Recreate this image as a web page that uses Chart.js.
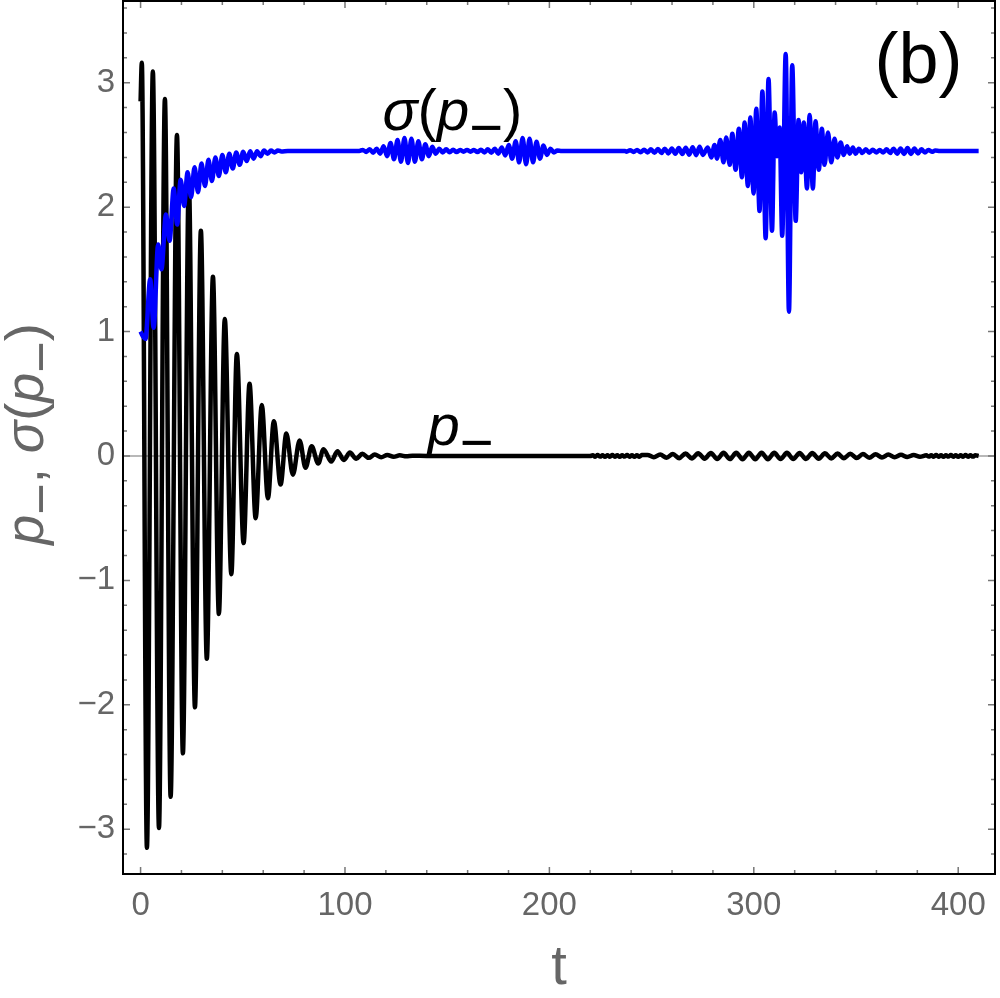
<!DOCTYPE html>
<html>
<head>
<meta charset="utf-8">
<script src="https://cdn.jsdelivr.net/npm/chart.js@4.4.1/dist/chart.umd.min.js"></script>
<style>
  html, body { margin: 0; padding: 0; background: #fff; }
  #wrap { width: 1000px; height: 998px; }
</style>
</head>
<body>
<div id="wrap"><canvas id="chart" width="1000" height="998"></canvas></div>
<script>
// --- data (extrema of the curves) ---
const pTimes = [0, 0.6, 3.1, 6.0, 9.0, 11.9, 14.7, 17.8, 20.7, 23.6, 26.6, 29.5, 32.4, 35.4, 38.3, 41.2, 44.4, 47.1, 50.4,
  53.3, 56.3, 59.3, 62.3, 65.2, 68.5, 71.3, 74.5, 77.8, 80.7, 83.7, 86.9, 89.5, 93.3, 96.3, 99.4, 102.4, 105.5, 108.5,
  111.6, 114.6, 117.7, 120.7, 123.8, 126.8, 130, 133, 140, 180, 220,
  221.2, 222.4, 223.6, 224.8, 226, 227.2, 228.4, 229.6, 230.8, 232, 233.2, 234.4, 235.6, 236.8, 238, 239.2, 240.4,
  241.6, 242.8, 244, 245.2,
  248.0, 251.1, 254.2, 257.3, 260.4, 263.5, 266.6, 269.7, 272.8, 275.9, 279.0, 282.1, 285.2, 288.3, 291.4, 294.5,
  297.6, 300.7, 303.8, 306.9, 310.0, 313.1, 316.2, 319.3, 322.4, 325.5, 328.6, 331.7, 334.8, 337.9, 341.0, 344.1,
  347.2, 350.3, 353.4, 356.5, 359.6, 362.7, 365.8, 368.9, 372.0, 375.1, 378.2, 381.3, 384.4,
  385.6, 386.8, 388.0, 389.2, 390.4, 391.6, 392.8, 394.0, 395.2, 396.4, 397.6, 398.8, 400.0, 401.2, 402.4, 403.6,
  404.8, 406.0, 407.2, 408.4, 410];
const pValues = [2.85, 3.16, -3.15, 3.09, -2.99, 2.87, -2.74, 2.58, -2.39, 2.21, -2.02, 1.81, -1.63, 1.44, -1.27, 1.10,
  -0.95, 0.82, -0.70, 0.58, -0.50, 0.41, -0.34, 0.28, -0.23, 0.18, -0.15, 0.125, -0.095, 0.078, -0.06, 0.055, -0.045,
  0.038, -0.032, 0.027, -0.022, 0.018, -0.015, 0.012, -0.01, 0.008, -0.006, 0.005, -0.003, 0.002, 0, 0, 0,
  0.006, -0.006, 0.007, -0.005, 0.006, -0.007, 0.005, -0.006, 0.007, -0.006, 0.006, -0.007, 0.006, -0.005, 0.007,
  -0.006, 0.006, -0.007, 0.006, -0.006, 0.007,
  0.008, -0.01, 0.012, -0.014, 0.016, -0.018, 0.02, -0.02, 0.022, -0.022, 0.024, -0.024, 0.025, -0.025, 0.026,
  -0.026, 0.026, -0.026, 0.026, -0.026, 0.025, -0.025, 0.025, -0.025, 0.024, -0.024, 0.023, -0.022, 0.021, -0.02,
  0.019, -0.018, 0.017, -0.016, 0.015, -0.014, 0.013, -0.012, 0.011, -0.01, 0.009, -0.008, 0.007, -0.006, 0.005,
  -0.005, 0.006, -0.006, 0.007, -0.006, 0.006, -0.007, 0.006, -0.005, 0.007, -0.006, 0.006, -0.007, 0.006, -0.006,
  0.007, -0.006, 0.006, -0.005, 0.006, 0];

const sTimes = [0, 1.2, 2.4, 4.7, 6.4, 8.6, 10.2, 12.4, 14.2, 16.2, 17.9, 19.6, 21.3, 23.0, 24.7, 26.4, 28.1, 29.8,
  31.5, 33.2, 34.9, 36.6, 38.3, 40.0, 41.7, 43.4, 45.1, 46.8, 48.5, 50.2, 51.9, 53.6, 55.3, 57.0, 58.7, 60.4, 62.1,
  63.8, 65.5, 67.2, 68.9, 72, 90, 107,
  108.7, 110.4, 112.1, 113.8, 115.5, 117.2, 118.9, 120.6, 122.3, 124.0, 125.7, 127.4, 129.1, 130.8, 132.5, 134.2,
  135.9, 137.6, 139.3, 141.0, 142.7, 144.4, 146.1, 147.8, 149.5, 151.2, 152.9, 154.6, 156.3, 158.0, 159.7, 161.4,
  163.1, 164.8, 166.5, 168.2, 169.9,
  171.6, 173.3, 175.0, 176.7, 178.4, 180.1, 181.8, 183.5, 185.2, 186.9, 188.6, 190.3, 192.0, 193.7, 195.4, 197.1,
  198.8, 200.5, 202.2, 203.9, 206, 237,
  237.8, 239.5, 241.2, 242.9, 244.6, 246.3, 248.0, 249.7, 251.4, 253.1, 254.8, 256.5, 258.2, 259.9, 261.6, 263.3,
  265.0, 266.7, 268.4, 270.1, 271.8, 273.5,
  275.1, 277.5, 279.2, 280.8, 282.0, 283.6, 285.2, 286.5, 288.2, 289.5, 291.1, 292.7, 294.2, 295.5, 297.1, 298.3,
  299.9, 301.2, 302.8, 304.2, 305.8, 307.2, 308.9, 310.2, 311.4, 312.6, 313.9, 315.6, 317.2, 318.8, 320.5, 321.9,
  323.2, 324.5, 326.0, 327.3, 328.9, 330.2, 331.8, 333.3, 334.6, 336.3, 337.9, 339.5, 340.9, 342.5, 344.0, 345.6,
  346.9, 348.5, 349.8, 351.4,
  353.1, 354.8, 356.5, 358.2, 359.9, 361.6, 363.3, 365.0, 366.7, 368.4, 370.1, 371.8, 373.5, 375.2, 376.9, 378.6,
  380.3, 382.0, 383.7, 385.4, 387.1, 388.8, 391, 410];
const sValues = [1.00, 0.96, 0.94, 1.42, 1.03, 1.70, 1.50, 1.94, 1.73, 2.15, 1.86, 2.22, 2.01, 2.28, 2.08, 2.32, 2.12,
  2.35, 2.17, 2.38, 2.21, 2.40, 2.25, 2.42, 2.28, 2.43, 2.31, 2.44, 2.34, 2.445, 2.37, 2.45, 2.39, 2.45, 2.41, 2.455,
  2.43, 2.455, 2.44, 2.455, 2.448, 2.452, 2.452, 2.452,
  2.46, 2.444, 2.465, 2.438, 2.47, 2.43, 2.49, 2.41, 2.515, 2.385, 2.54, 2.365, 2.555, 2.355, 2.55, 2.365,
  2.53, 2.385, 2.505, 2.41, 2.485, 2.43, 2.47, 2.44, 2.465, 2.442, 2.462, 2.443, 2.46, 2.445, 2.46, 2.445,
  2.46, 2.443, 2.462, 2.44, 2.465,
  2.437, 2.47, 2.43, 2.48, 2.415, 2.50, 2.39, 2.53, 2.36, 2.555, 2.345, 2.55, 2.36, 2.525, 2.39, 2.495,
  2.42, 2.47, 2.44, 2.455, 2.452, 2.452,
  2.446, 2.458, 2.444, 2.46, 2.442, 2.462, 2.44, 2.465, 2.437, 2.468, 2.435, 2.47, 2.432, 2.472, 2.43, 2.475,
  2.427, 2.478, 2.422, 2.482, 2.418, 2.485,
  2.42, 2.48, 2.40, 2.50, 2.39, 2.54, 2.36, 2.56, 2.34, 2.59, 2.30, 2.63, 2.24, 2.68, 2.17, 2.72,
  2.11, 2.79, 1.97, 2.93, 1.75, 3.03, 1.81, 2.76, 2.41, 2.64, 1.77, 3.23, 1.16, 3.14, 1.89, 2.70,
  2.28, 2.68, 2.15, 2.74, 2.15, 2.69, 2.30, 2.63, 2.34, 2.60, 2.36, 2.55, 2.40, 2.52, 2.42, 2.49,
  2.43, 2.48, 2.43, 2.47,
  2.435, 2.465, 2.438, 2.462, 2.44, 2.46, 2.44, 2.465, 2.435, 2.47, 2.43, 2.472, 2.428, 2.475, 2.428, 2.472,
  2.432, 2.465, 2.44, 2.46, 2.445, 2.455, 2.452, 2.452];

const xTicks = [0, 100, 200, 300, 400];
const yTicks = [-3, -2, -1, 0, 1, 2, 3];

// --- helpers ---
const GRAY = '#666666';
const FONT = '"Liberation Sans", Arial, sans-serif';
const toPoints = (ts, vs) => ts.map((t, i) => ({ x: t, y: vs[i] }));

function drawRich(ctx, parts, size, x, y, align, rot) {
  ctx.save();
  ctx.translate(x, y);
  if (rot) ctx.rotate(rot);
  const fonts = parts.map(p => (p.it ? 'italic ' : '') + size + 'px ' + FONT);
  const widths = parts.map((p, i) => { ctx.font = fonts[i]; return ctx.measureText(p.t).width; });
  const total = widths.reduce((a, b) => a + b, 0);
  let cx = align === 'center' ? -total / 2 : 0;
  ctx.textAlign = 'left';
  ctx.textBaseline = 'alphabetic';
  parts.forEach((p, i) => {
    ctx.font = fonts[i];
    ctx.fillText(p.t, cx, p.sub ? size * 0.3 : 0);
    cx += widths[i];
  });
  ctx.restore();
}

const sigmaParts = [{ t: 'σ', it: true }, { t: '(' }, { t: 'p', it: true }, { t: '−', sub: true }, { t: ')' }];
const pParts = [{ t: 'p', it: true }, { t: '−', sub: true }];

// --- frame, ticks, labels ---
const framePlugin = {
  id: 'frame',
  beforeDatasetsDraw(chart) {
    const { ctx, chartArea: a, scales: { y } } = chart;
    const y0 = y.getPixelForValue(0);
    ctx.save();
    ctx.strokeStyle = '#a0a0a0';
    ctx.lineWidth = 1.3;
    ctx.beginPath();
    ctx.moveTo(a.left, y0);
    ctx.lineTo(a.right, y0);
    ctx.stroke();
    ctx.restore();
  },
  afterDraw(chart) {
    const { ctx, chartArea: a, scales: { x, y } } = chart;
    ctx.save();
    ctx.strokeStyle = '#777777';
    ctx.lineWidth = 1.5;
    ctx.beginPath();
    for (let v = 0; v <= x.max; v += 20) {
      const px = x.getPixelForValue(v);
      const len = xTicks.includes(v) ? 7 : 4;
      ctx.moveTo(px, a.bottom); ctx.lineTo(px, a.bottom - len);
      ctx.moveTo(px, a.top); ctx.lineTo(px, a.top + len);
    }
    for (let k = Math.ceil(y.min * 5); k <= Math.floor(y.max * 5); k++) {
      const py = y.getPixelForValue(k / 5);
      const len = k % 5 === 0 ? 7 : 4;
      ctx.moveTo(a.left, py); ctx.lineTo(a.left + len, py);
      ctx.moveTo(a.right, py); ctx.lineTo(a.right - len, py);
    }
    ctx.stroke();

    ctx.strokeStyle = '#000';
    ctx.lineWidth = 2;
    ctx.strokeRect(a.left, a.top, a.right - a.left, a.bottom - a.top);

    // axis titles
    ctx.fillStyle = GRAY;
    drawRich(ctx, [{ t: 't' }], 56, (a.left + a.right) / 2, 984, 'center');
    drawRich(ctx, pParts.concat([{ t: ', ' }], sigmaParts), 54, 43, 434, 'center', -Math.PI / 2);

    // curve labels
    ctx.fillStyle = '#000';
    drawRich(ctx, sigmaParts, 58, x.getPixelForValue(118.4), y.getPixelForValue(2.62), 'left');
    drawRich(ctx, pParts, 58, x.getPixelForValue(140.4), y.getPixelForValue(0.088), 'left');
    drawRich(ctx, [{ t: '(b)' }], 72, x.getPixelForValue(359), y.getPixelForValue(3.0), 'left');
    ctx.restore();
  }
};

const tickFont = { family: FONT, size: 33 };

new Chart(document.getElementById('chart'), {
  type: 'line',
  data: {
    datasets: [
      {
        label: 'σ(p−)',
        data: toPoints(sTimes, sValues),
        borderColor: '#0000ff',
        borderWidth: 4.5,
        pointRadius: 0,
        cubicInterpolationMode: 'monotone',
        order: 0
      },
      {
        label: 'p−',
        data: toPoints(pTimes, pValues),
        borderColor: '#000000',
        borderWidth: 4.5,
        pointRadius: 0,
        cubicInterpolationMode: 'monotone',
        order: 1
      }
    ]
  },
  options: {
    responsive: false,
    animation: false,
    devicePixelRatio: 1,
    layout: { padding: { top: 1, right: 5, left: 0, bottom: 0 } },
    plugins: { legend: { display: false }, tooltip: { enabled: false } },
    scales: {
      x: {
        type: 'linear',
        min: -8.6,
        max: 418,
        afterBuildTicks: s => { s.ticks = xTicks.map(v => ({ value: v })); },
        afterFit: s => { s.height = 124; s.paddingLeft = 0; s.paddingRight = 0; },
        grid: { display: false, drawTicks: false },
        border: { display: false },
        ticks: { color: GRAY, font: tickFont, padding: 12, autoSkip: false, maxRotation: 0 }
      },
      y: {
        type: 'linear',
        min: -3.36,
        max: 3.657,
        afterBuildTicks: s => { s.ticks = yTicks.map(v => ({ value: v })); },
        afterFit: s => { s.width = 123; s.paddingTop = 0; s.paddingBottom = 0; },
        grid: { display: false, drawTicks: false },
        border: { display: false },
        ticks: {
          color: GRAY, font: tickFont, padding: 8, autoSkip: false,
          callback: v => (v < 0 ? '\u2212' + Math.abs(v) : String(v))
        }
      }
    }
  },
  plugins: [framePlugin]
});
</script>
</body>
</html>
